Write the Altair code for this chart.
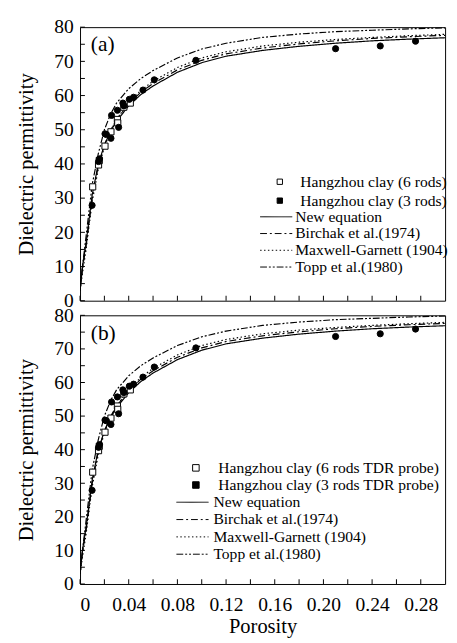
import altair as alt
import pandas as pd

# ---------------- data ----------------
curve_x = [0, 0.002, 0.005, 0.01, 0.015, 0.02, 0.025, 0.03, 0.04, 0.05, 0.06,
           0.08, 0.10, 0.12, 0.15, 0.18, 0.21, 0.24, 0.27, 0.30]
new_eq = [3, 10, 17, 31, 40, 45.5, 49.5, 52.5, 57, 60.3, 62.8,
          66.8, 69.6, 71.5, 73.2, 74.4, 75.3, 76.0, 76.5, 76.9]
birchak = [3, 9.5, 16, 30, 39.5, 45.5, 49.8, 53, 57.5, 61, 63.5,
           67.5, 70.3, 72.2, 73.9, 75.1, 76.0, 76.7, 77.2, 77.6]
maxwell = [3, 8, 15, 29, 38.5, 45, 49.5, 53, 58, 61.5, 64.2,
           68.2, 71.0, 72.8, 74.5, 75.6, 76.4, 77.0, 77.5, 77.9]
topp = [3, 10, 19, 34, 43, 50, 54.5, 57.8, 62, 65, 67.3,
        71.0, 73.6, 75.3, 77.0, 78.0, 78.7, 79.1, 79.5, 79.8]

model_names = ["New equation", "Birchak et al.(1974)",
               "Maxwell-Garnett (1904)", "Topp et al.(1980)"]

six_x = [0.0104, 0.0152, 0.0158, 0.0205, 0.0254, 0.0307, 0.031, 0.036, 0.0413]
six_y = [33.3, 39.7, 41.0, 45.2, 49.4, 53.0, 52.0, 56.6, 57.8]
three_x = [0.0099, 0.0152, 0.016, 0.0205, 0.0217, 0.0254, 0.0259, 0.0307, 0.0317,
           0.0352, 0.036, 0.0405, 0.044, 0.0517, 0.061, 0.0952, 0.21, 0.2467, 0.2757]
three_y = [27.9, 40.7, 41.5, 48.8, 48.6, 47.5, 54.2, 55.7, 50.7,
           57.8, 57.0, 58.9, 59.5, 61.6, 64.6, 70.3, 73.7, 74.5, 75.9]

series_a = ["Hangzhou clay (6 rods)", "Hangzhou clay (3 rods)"]
series_b = ["Hangzhou clay (6 rods TDR probe)", "Hangzhou clay (3 rods TDR probe)"]

x_label_values = [0, 0.04, 0.08, 0.12, 0.16, 0.20, 0.24, 0.28]
x_tick_values = [round(i * 0.02, 2) for i in range(15)]
y_label_values = list(range(0, 81, 10))
y_tick_values = list(range(0, 81, 5))

FONT = "Liberation Serif, Times New Roman, DejaVu Serif, serif"
W = 375

lines_rows = []
for name, ys in zip(model_names, [new_eq, birchak, maxwell, topp]):
    for xv, yv in zip(curve_x, ys):
        lines_rows.append({"x": xv, "y": yv, "model": name})
lines_df = pd.DataFrame(lines_rows)

xt_df = pd.DataFrame({"x": x_tick_values, "y": [0] * len(x_tick_values)})
yt_df = pd.DataFrame({"y": y_tick_values, "x": [0] * len(y_tick_values)})

xscale = alt.Scale(domain=[0, 0.3], nice=False, zero=False)
yscale = alt.Scale(domain=[0, 80], nice=False, zero=False)


def panel(tag, series, height, show_x, fill_leg, dash_leg, sym_size):
    six_df = pd.DataFrame({"x": six_x, "y": six_y, "series": series[0]})
    three_df = pd.DataFrame({"x": three_x, "y": three_y, "series": series[1]})

    if show_x:
        x_axis = alt.Axis(values=x_label_values, ticks=False, tickSize=0,
                          domain=False, grid=False, labelPadding=11,
                          labelExpr="datum.value == 0 ? '0' : format(datum.value, '.2f')",
                          title="Porosity", titlePadding=2)
    else:
        x_axis = alt.Axis(labels=False, ticks=False, tickSize=0, domain=False,
                          grid=False, title=None)
    y_axis = alt.Axis(values=y_label_values, ticks=False, tickSize=0, domain=False,
                      grid=False, labelPadding=7, format="d",
                      title="Dielectric permittivity", titlePadding=18)

    X = alt.X("x:Q", scale=xscale, axis=x_axis)
    Y = alt.Y("y:Q", scale=yscale, axis=y_axis)

    fill_scale = alt.Scale(domain=series, range=["white", "black"])
    fill_legend = alt.Legend(orient="none", legendX=fill_leg[0], legendY=fill_leg[1],
                             title=None, symbolType="square", symbolSize=sym_size,
                             symbolStrokeColor="black", symbolStrokeWidth=1,
                             labelOffset=fill_leg[2], rowPadding=fill_leg[3],
                             padding=0, labelLimit=400)
    dash_scale = alt.Scale(domain=model_names,
                           range=[[1, 0], [7, 3, 2, 3], [1.5, 2.5], [7, 2, 2, 2, 2, 2]])
    dash_legend = alt.Legend(orient="none", legendX=dash_leg[0], legendY=dash_leg[1],
                             title=None, symbolType="M-3,0L3,0", symbolSize=121,
                             symbolStrokeColor="black", symbolStrokeWidth=1,
                             labelOffset=dash_leg[2], rowPadding=dash_leg[3],
                             padding=0, labelLimit=400)

    lines = alt.Chart(lines_df).mark_line(color="black", strokeWidth=1.2, clip=True).encode(
        x=X, y=Y,
        strokeDash=alt.StrokeDash("model:N", scale=dash_scale, legend=dash_legend,
                                  sort=model_names),
        order="x:Q",
    )

    xticks = alt.Chart(xt_df).mark_tick(orient="vertical", size=5, thickness=1,
                                        color="black", yOffset=-2.5, opacity=1).encode(
        x=X, y=Y)
    yticks = alt.Chart(yt_df).mark_tick(orient="horizontal", size=5, thickness=1,
                                        color="black", xOffset=2.5, opacity=1).encode(
        x=X, y=Y)

    pts6 = alt.Chart(six_df).mark_point(shape="square", size=40, stroke="black",
                                        strokeWidth=1, opacity=1).encode(
        x=X, y=Y,
        fill=alt.Fill("series:N", scale=fill_scale, legend=fill_legend, sort=series),
    )
    pts3 = alt.Chart(three_df).mark_point(shape="circle", size=40, stroke="black",
                                          strokeWidth=1, opacity=1).encode(
        x=X, y=Y,
        fill=alt.Fill("series:N", scale=fill_scale, legend=fill_legend, sort=series),
    )
    txt = alt.Chart(pd.DataFrame({"label": [tag]})).mark_text(
        font=FONT, fontSize=22, align="left", baseline="middle", color="black"
    ).encode(text="label:N", x=alt.value(11), y=alt.value(18))

    return alt.layer(xticks, yticks, lines, pts6, pts3, txt).properties(
        width=W, height=height)


# legend params: (legendX, legendY, labelOffset, rowPadding)
pa = panel("(a)", series_a, 281, False, (197.2, 150.8, 13, 3.4), (193.5, 186.8, 11.5, 1.2), 30)
pb = panel("(b)", series_b, 276, True, (111, 148.7, 15, 1.6), (107.5, 184, 13.5, 1.8), 45)

chart = alt.vconcat(pa, pb, spacing=15, bounds="flush").resolve_scale(
    x="independent", y="independent", fill="independent", strokeDash="independent"
).properties(
    padding={"left": 7, "top": 0, "right": 0, "bottom": 0}
).configure(font=FONT).configure_view(
    stroke="black", strokeWidth=1
).configure_axis(
    labelFont=FONT, labelFontSize=20, labelColor="black",
    titleFont=FONT, titleFontSize=21, titleFontWeight="normal", titleColor="black",
    grid=False
).configure_legend(
    labelFont=FONT, labelFontSize=16, labelColor="black"
)

chart.save("out.html", embed_options={"renderer": "svg", "actions": False})
